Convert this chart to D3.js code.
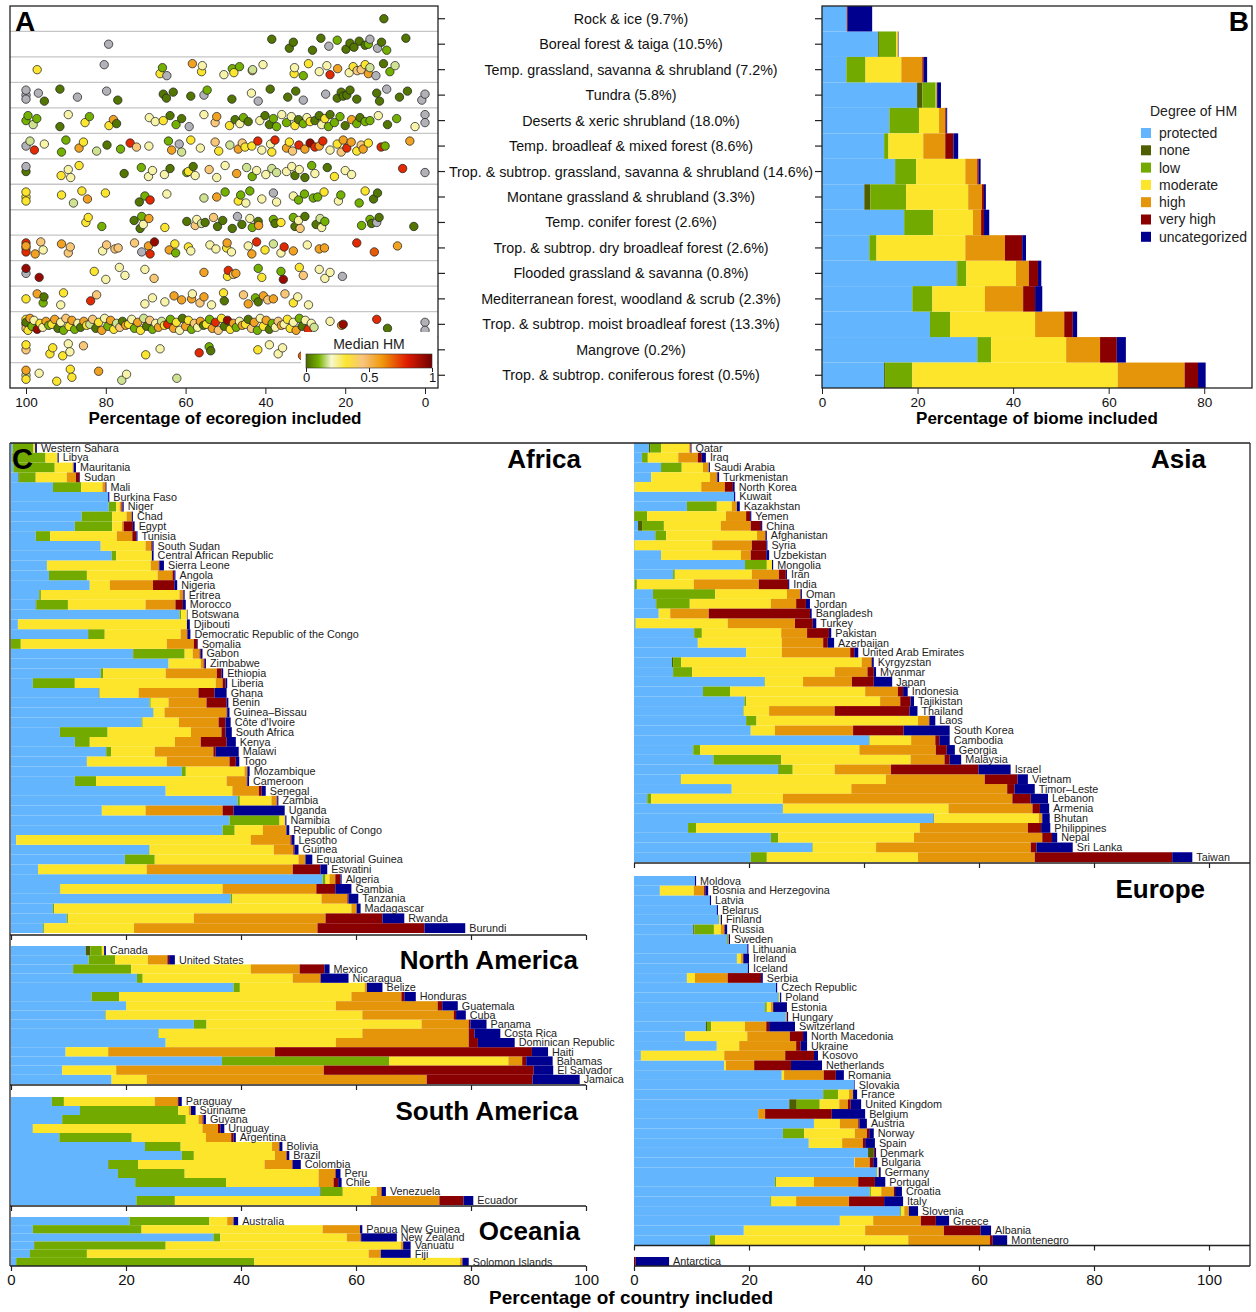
<!DOCTYPE html>
<html>
<head>
<meta charset="utf-8">
<script src="https://cdn.jsdelivr.net/npm/d3@7"></script>
<style>
  body { margin: 0; background: #fff; }
  svg { display: block; font-family: "Liberation Sans", Arial, Helvetica, sans-serif; }
  .axis text { fill: #111; }
  .axis line, .axis path { stroke: #222; }
</style>
</head>
<body>
<svg id="chart" width="1256" height="1312"></svg>
<script>
// ---- categories ----
const hmCats = ["protected", "none", "low", "moderate", "high", "very high", "uncategorized"];
const hmColors = ["#63b5fd", "#4f5f00", "#72aa00", "#fce52a", "#e4950a", "#8a0000", "#00008f"];

// median HM colour ramp (panel A)
const hmStops = [0, 0.1, 0.2, 0.32, 0.45, 0.6, 0.8, 1];
const hmStopColors = ["#4a6800", "#74b000", "#f6f8d0", "#fbe52e", "#f8c47e", "#f09a0c", "#e01c00", "#700000"];

// ---- biomes (panels A and B) ----
const biomes = [
  "Rock & ice (9.7%)", "Boreal forest & taiga (10.5%)", "Temp. grassland, savanna & shrubland (7.2%)",
  "Tundra (5.8%)", "Deserts & xeric shrubland (18.0%)", "Temp. broadleaf & mixed forest (8.6%)",
  "Trop. & subtrop. grassland, savanna & shrubland (14.6%)", "Montane grassland & shrubland (3.3%)",
  "Temp. conifer forest (2.6%)", "Trop. & subtrop. dry broadleaf forest (2.6%)", "Flooded grassland & savanna (0.8%)",
  "Mediterranean forest, woodland & scrub (2.3%)", "Trop. & subtrop. moist broadleaf forest (13.3%)",
  "Mangrove (0.2%)", "Trop. & subtrop. coniferous forest (0.5%)"
];

// cumulative % of biome: protected, none, low, moderate, high, very high, uncategorized
const biomeCum = [
  [5.2, 5.2, 5.2, 5.2, 5.2, 5.4, 10.5],
  [11.7, 11.9, 15.5, 15.8, 15.9, 15.9, 16.0],
  [5.1, 5.1, 9.1, 16.6, 21.0, 21.3, 22.0],
  [19.9, 21.0, 23.8, 24.0, 24.0, 24.1, 24.9],
  [14.1, 14.1, 20.3, 24.5, 25.8, 26.0, 26.2],
  [13.0, 13.0, 13.9, 21.2, 25.8, 27.5, 28.5],
  [15.3, 15.3, 19.7, 30.0, 32.5, 32.8, 33.2],
  [8.85, 10.1, 17.6, 30.6, 33.5, 33.9, 34.3],
  [17.2, 17.2, 23.3, 31.6, 33.3, 33.9, 35.0],
  [9.9, 9.9, 11.4, 30.0, 38.3, 41.9, 42.7],
  [28.2, 28.3, 30.2, 40.6, 43.3, 45.2, 45.9],
  [18.9, 18.9, 23.1, 34.1, 42.1, 44.6, 46.1],
  [22.6, 22.6, 26.8, 44.6, 50.7, 52.5, 53.4],
  [32.5, 32.5, 35.4, 51.1, 58.2, 61.7, 63.6],
  [13.0, 13.2, 18.9, 61.9, 75.9, 78.7, 80.3]
];

// ecoregions: [% of ecoregion included, median HM (null = not available)]
const ecoRock = [[10.3, .02]];
const ecoBoreal = [[79.3, null], [38.4, .02], [34.0, .02], [33.0, .02], [28.2, .02], [26.1, .02], [24.1, null], [22.0, .1], [19.8, .02], [18.8, .02], [17.8, .02], [16.5, .02], [15.0, .02], [14.2, .1], [13.8, null], [11.9, null], [10.9, .02], [9.6, .1], [4.8, .02]];
const ecoTempGrass = [[97.2, .32], [80.4, null], [66.4, .32], [65.8, .1], [64.7, null], [58.3, .57], [56.0, .32], [55.8, .23], [50.4, .23], [48.3, .1], [47.9, .32], [46.5, .1], [43.3, .44], [43.2, .17], [40.6, .23], [32.8, .32], [32.7, .23], [30.5, .1], [29.2, .32], [26.5, .23], [24.6, .23], [23.8, .78], [21.9, .57], [19.0, .23], [18.0, .32], [17.0, .44], [16.0, .44], [15.0, .32], [14.2, .57], [13.8, .17], [12.3, null], [10.4, .02], [8.8, .1], [7.5, .17]];
const ecoTundra = [[100, null], [100, null], [100, null], [96.9, null], [95.4, .02], [91.5, .02], [87.1, null], [79.8, null], [77.0, .02], [65.6, .02], [64.8, .02], [63.1, .02], [58.7, .02], [55.4, null], [54.6, .1], [48.4, .02], [43.5, .23], [41.8, null], [38.8, .02], [34.4, .02], [32.4, .02], [30.5, null], [24.9, null], [22.0, .02], [21.0, .02], [20.5, .02], [19.6, .02], [18.8, .02], [17.1, .02], [12.1, .02], [11.4, .02], [9.6, null], [6.4, .02], [4.4, .02], [0.8, null], [0, null]];
const ecoDeserts = [[100, .1], [99.5, .1], [98.2, .17], [97.3, .1], [91.5, .02], [89.4, .23], [85.2, .32], [84.1, .1], [79.2, .32], [78.1, .57], [77.3, .02], [69.1, .23], [67.6, .23], [65.6, .32], [63.9, .02], [62.4, .1], [61.0, .02], [59.1, null], [55.4, .23], [52.6, .44], [52.2, .57], [49.0, .32], [47.6, .02], [46.4, .23], [45.5, .1], [44.3, .02], [41.4, .23], [40.1, .02], [39.0, .02], [38.0, .1], [37.2, .1], [35.9, .23], [34.7, .1], [33.5, .23], [32.6, .32], [31.7, .02], [30.5, .1], [29.6, .23], [28.8, .32], [27.6, .02], [26.5, .02], [25.9, .23], [25.1, .32], [24.2, .1], [23.8, .02], [22.7, .1], [21.3, .1], [20.0, .02], [18.4, .57], [17.1, .1], [16.3, .02], [15.0, .1], [13.8, .1], [11.7, .23], [9.4, .02], [7.1, .1], [2.5, .23], [0, null], [0, null]];
const ecoTempBroad = [[100, null], [99, .17], [97.9, .78], [95.4, .23], [91.1, .1], [90.0, .1], [86.7, .57], [85.6, .32], [82.3, .17], [79.7, .02], [76.3, .1], [73.9, .78], [72.3, .44], [69.2, .23], [64.3, .1], [63.5, .57], [61.6, null], [61.0, .17], [58.7, .32], [56.3, .23], [52.6, .44], [51.7, .32], [48.9, .17], [46.8, .57], [45.8, .44], [45.1, .32], [43.4, .32], [41.9, .78], [40.9, .23], [38.7, .23], [38.4, .32], [37.6, .78], [34.7, .57], [34.0, .32], [33.2, .44], [31.6, .78], [30.1, .57], [28.8, .93], [27.6, .78], [26.5, .57], [25.6, .78], [23.8, .23], [22.0, .32], [21.0, .44], [20.5, .57], [19.6, .78], [18.5, .57], [17.1, .32], [16.0, .44], [15.5, .57], [14.2, .32], [11.0, .78], [10.0, .1], [3.8, .57]];
const ecoTropGrass = [[100, .02], [100, null], [91.2, .32], [89.4, .23], [88.8, .23], [86.7, .32], [75.4, .02], [71.1, .1], [69.3, .23], [68.3, .23], [65.3, .23], [63.9, .02], [59.7, .1], [59.3, .32], [58.1, .02], [57.6, .23], [54.1, .44], [52.2, .23], [50.1, .23], [47.2, .57], [44.7, .17], [43.3, .1], [42.2, .23], [39.9, .23], [38.4, .17], [37.2, .17], [34.7, .23], [33.4, .23], [32.6, .02], [31.5, .23], [30.1, .02], [28.4, .1], [27.6, .23], [24.5, .02], [22.7, .32], [20.0, .23], [18.4, .23], [5.6, .78], [0, null]];
const ecoMontane = [[100, .32], [100, .32], [100, .32], [91.1, .32], [88.1, .17], [86.0, .32], [84.6, .57], [80.1, .32], [71.6, .02], [70.2, .1], [68.9, .78], [64.7, .23], [55.4, .17], [52.2, .57], [50.1, .1], [46.8, .32], [46.2, .1], [44.9, .23], [43.9, .1], [40.9, .23], [38.0, null], [37.2, .23], [33.0, .23], [31.7, .1], [30.2, .1], [28.0, .1], [26.9, .1], [25.3, .32], [21.7, .23], [21.1, .1], [16.5, .1], [15.0, .32], [12.9, .02], [11.9, .02]];
const ecoTempConifer = [[85.0, .32], [84.4, .32], [81.0, .1], [72.9, .02], [71.4, .02], [71.0, .1], [70.6, .23], [69.2, .57], [65.2, .32], [59.7, .02], [57.6, .44], [57.2, .23], [56.0, .17], [55.1, .02], [53.0, .44], [52.0, .02], [50.7, .02], [48.3, .02], [47.0, null], [45.9, .02], [43.9, .23], [43.3, .1], [41.8, .02], [41.7, .57], [38.0, .1], [37.6, .02], [36.1, .32], [33.0, .1], [32.6, .02], [31.7, .23], [31.3, .44], [30.1, .02], [27.3, .02], [26.3, .17], [25.9, .23], [25.1, .1], [15.9, .1], [13.8, .1], [13.4, .02], [12.1, null], [11.5, .02], [2.8, .02]];
const ecoTropDry = [[100, .57], [100, .78], [100, .78], [100, .57], [97.7, .57], [96.3, .44], [95.7, .23], [91.1, .57], [89.4, .44], [88.9, .44], [80.8, .23], [79.8, .44], [77.7, .44], [76.9, .44], [72.8, .44], [71.0, null], [69.3, .57], [68.9, .78], [67.8, .93], [64.1, .57], [62.7, .32], [62.5, .1], [59.3, .32], [58.7, .23], [53.9, .23], [52.4, .23], [49.7, .32], [49.6, .57], [48.5, .23], [44.3, .23], [43.4, .57], [42.2, .78], [40.1, .32], [38.0, .17], [36.1, .23], [35.3, .78], [33.0, .57], [29.5, .23], [26.5, .57], [25.2, .57], [17.1, .78], [12.7, .7], [6.9, .57]];
const ecoFlooded = [[100, null], [100, .93], [96.7, .93], [82.9, .32], [80.0, .23], [76.6, .23], [75.2, .23], [70.2, .23], [67.9, .44], [55.4, .57], [49.5, .32], [49.3, .78], [48.0, .44], [47.4, .57], [41.8, .1], [40.9, .32], [36.1, .1], [35.5, .93], [31.5, .32], [30.5, .44], [26.5, .23], [25.1, .23], [23.8, .23], [20.7, null]];
const ecoMedit = [[100, .32], [97.2, .57], [95.7, .1], [95.5, .02], [91.3, .23], [90.6, .32], [83.8, .78], [82.3, .44], [70.2, .23], [68.3, .23], [65.2, .23], [62.9, .57], [61.0, .57], [58.5, .57], [58.3, .23], [56.4, .44], [55.4, .57], [53.5, .23], [50.5, .32], [50.3, .02], [45.5, .44], [44.3, .57], [42.5, .1], [41.8, .02], [40.5, .57], [39.4, .44], [38.0, .57], [35.1, .44], [33.0, .32], [31.9, .23], [29.2, .23]];
const ecoTropMoist = [[100, .57], [100, .32], [100, .44], [100, .02], [99.5, .32], [99, .57], [98.5, .1], [98, .23], [97.2, .93], [96.5, .32], [95.8, .23], [95, .57], [94.3, .1], [93.5, .32], [92.8, .57], [92, .02], [91.3, .23], [90.6, .1], [90, .44], [89.2, .32], [88.5, .57], [87.8, .1], [87, .23], [86.3, .02], [85.5, .57], [84.8, .32], [84, .17], [83.3, .44], [82.5, .02], [81.8, .32], [81, .57], [80.3, .23], [79.5, .1], [78.8, .57], [78, .32], [77.3, .17], [76.5, .44], [75.8, .02], [75, .57], [74.3, .32], [73.5, .23], [72.8, .1], [72, .57], [71.3, .32], [70.5, .17], [69.8, .02], [69, .44], [68.3, .1], [67.5, .23], [66.8, .57], [66, .17], [65.3, .32], [64.5, .78], [63.8, .1], [63, .57], [62.3, .32], [61.5, .23], [60.8, .02], [60, .57], [59.3, .32], [58.5, .1], [57.8, .44], [57, .23], [56.3, .57], [55.5, .02], [54.8, .32], [54, .1], [53.3, .57], [52.5, .78], [51.8, .44], [51, .32], [50.3, .02], [49.5, .93], [48.8, .32], [48, .57], [47.3, .1], [46.5, .23], [45.8, .57], [45, .32], [44.3, .02], [43.5, .44], [42.8, .57], [42, .1], [41.3, .23], [40.5, .32], [39.8, .57], [39, .02], [38.3, .1], [37.5, .23], [36.8, .44], [36, .57], [35.3, .23], [34.5, .32], [33.8, .32], [33, .23], [32.3, .57], [31.5, .1], [30.8, .02], [30, .23], [29.3, .78], [28.5, .23], [27.8, .17], [23.8, .23], [20.9, .57], [20.5, .93], [12.1, .78], [9.4, .02], [0, null], [0, null]];
const ecoMangrove = [[100, .44], [100, .32], [94.0, .32], [93.3, .32], [90.8, .32], [89.4, .23], [89.0, .23], [85.6, .44], [70.0, .32], [66.4, .23], [56.6, .78], [54.1, .1], [53.7, .02], [41.9, .32], [39.0, .23], [36.8, .23], [35.7, .23], [30.7, .7]];
const ecoTropConif = [[100, .17], [100, .57], [100, .32], [96.7, .23], [92.3, .32], [88.9, .32], [88.5, .32], [81.8, .57], [76.0, .17], [74.8, .23], [62.2, .17]];

const ecoPoints = [ecoRock, ecoBoreal, ecoTempGrass, ecoTundra, ecoDeserts, ecoTempBroad, ecoTropGrass,
  ecoMontane, ecoTempConifer, ecoTropDry, ecoFlooded, ecoMedit, ecoTropMoist, ecoMangrove, ecoTropConif];

// ---- countries (panel C): cumulative % of country, same 7 categories ----
const africa = [
  ["Western Sahara", 0.3, 0.3, 3.9, 4.2, 4.2, 4.2, 4.5],
  ["Libya", 0.2, 0.2, 6.0, 8.1, 8.1, 8.1, 8.3],
  ["Mauritania", 0.4, 0.4, 7.6, 10.7, 10.9, 10.9, 11.3],
  ["Sudan", 1.3, 1.4, 4.3, 9.7, 11.3, 11.9, 12.0],
  ["Mali", 7.3, 7.3, 12.2, 15.9, 16.4, 16.5, 16.6],
  ["Burkina Faso", 16.9, 16.9, 16.9, 16.9, 16.9, 16.9, 17.1],
  ["Niger", 17.0, 17.0, 18.3, 18.9, 19.2, 19.4, 19.6],
  ["Chad", 12.3, 12.3, 17.6, 20.1, 21.0, 21.0, 21.2],
  ["Egypt", 11.1, 11.1, 17.6, 19.3, 19.6, 21.2, 21.5],
  ["Tunisia", 4.3, 4.3, 6.8, 18.4, 21.1, 21.8, 22.0],
  ["South Sudan", 15.6, 15.6, 15.6, 23.4, 24.4, 24.6, 24.8],
  ["Central African Republic", 17.5, 17.5, 18.3, 24.5, 24.5, 24.5, 24.8],
  ["Sierra Leone", 6.25, 6.25, 6.25, 24.3, 25.7, 25.8, 26.6],
  ["Angola", 6.6, 6.6, 13.2, 25.5, 28.1, 28.4, 28.6],
  ["Nigeria", 13.7, 13.7, 13.7, 17.2, 24.7, 28.4, 28.9],
  ["Eritrea", 4.9, 4.9, 5.2, 29.3, 29.9, 30.0, 30.2],
  ["Morocco", 4.3, 4.4, 9.9, 23.4, 28.6, 29.9, 30.4],
  ["Botswana", 29.3, 29.3, 29.6, 30.6, 30.6, 30.6, 30.7],
  ["Djibouti", 1.2, 1.2, 1.2, 30.6, 30.6, 30.6, 31.1],
  ["Democratic Republic of the Congo", 13.4, 13.5, 16.3, 29.5, 30.6, 30.7, 31.2],
  ["Somalia", 0, 0, 1.7, 27.1, 31.8, 32.4, 32.5],
  ["Gabon", 21.2, 21.3, 30.2, 31.6, 32.8, 33.0, 33.3],
  ["Zimbabwe", 27.4, 27.4, 27.4, 33.0, 33.5, 33.7, 33.9],
  ["Ethiopia", 15.6, 15.6, 16.0, 26.9, 35.8, 36.6, 36.9],
  ["Liberia", 3.8, 3.8, 11.1, 35.6, 36.8, 37.3, 37.6],
  ["Ghana", 15.3, 15.4, 15.4, 22.2, 32.6, 35.4, 37.5],
  ["Benin", 24.1, 24.1, 24.3, 27.4, 34.0, 37.5, 37.8],
  ["Guinea\u2013Bissau", 24.7, 24.7, 24.8, 26.7, 37.5, 37.6, 38.0],
  ["C\u00f4te d'Ivoire", 22.7, 22.7, 22.9, 29.2, 36.1, 37.3, 38.2],
  ["South Africa", 8.5, 8.5, 16.8, 31.3, 36.6, 37.3, 38.4],
  ["Kenya", 11.1, 11.1, 13.7, 28.5, 33.0, 37.5, 39.1],
  ["Malawi", 16.5, 16.6, 17.4, 25.0, 35.2, 35.6, 39.6],
  ["Togo", 13.2, 13.2, 13.2, 27.1, 38.0, 39.1, 39.7],
  ["Mozambique", 29.7, 29.7, 30.4, 40.6, 41.1, 41.1, 41.5],
  ["Cameroon", 11.1, 11.1, 14.8, 37.5, 41.0, 41.1, 41.4],
  ["Senegal", 26.9, 26.9, 26.9, 38.5, 43.1, 43.6, 44.3],
  ["Zambia", 39.4, 39.4, 39.8, 45.3, 46.2, 46.3, 46.5],
  ["Uganda", 15.8, 15.8, 15.8, 23.4, 36.8, 38.7, 47.6],
  ["Namibia", 38.0, 38.0, 46.7, 47.6, 47.7, 47.7, 47.9],
  ["Republic of Congo", 36.8, 36.8, 38.9, 43.8, 47.9, 47.9, 48.4],
  ["Lesotho", 0.9, 0.9, 0.9, 41.7, 48.6, 48.8, 49.3],
  ["Guinea", 24.0, 24.0, 24.1, 45.7, 49.1, 49.3, 50.0],
  ["Equatorial Guinea", 19.8, 19.8, 25.0, 50.0, 51.2, 51.2, 52.4],
  ["Eswatini", 4.7, 4.7, 4.7, 23.6, 49.0, 53.8, 55.0],
  ["Algeria", 54.2, 54.2, 54.7, 55.4, 56.4, 57.3, 57.5],
  ["Gambia", 8.5, 8.5, 8.6, 36.8, 53.1, 56.4, 59.2],
  ["Tanzania", 38.2, 38.2, 38.5, 54.0, 58.5, 58.7, 60.4],
  ["Madagascar", 7.3, 7.3, 7.5, 59.2, 60.1, 60.1, 60.8],
  ["Rwanda", 9.7, 9.7, 9.9, 31.8, 54.7, 64.6, 68.4],
  ["Burundi", 5.6, 5.6, 5.8, 21.4, 53.3, 71.9, 79.0]
];
const northAmerica = [
  ["Canada", 13.0, 13.8, 15.8, 16.2, 16.2, 16.2, 16.5],
  ["United States", 13.5, 13.5, 18.1, 23.8, 27.2, 27.5, 28.5],
  ["Mexico", 10.8, 10.8, 20.9, 41.7, 50.2, 54.5, 55.4],
  ["Nicaragua", 21.9, 21.9, 22.9, 49.0, 53.8, 53.9, 58.7],
  ["Belize", 38.7, 38.7, 39.8, 61.5, 61.9, 61.9, 64.6],
  ["Honduras", 14.0, 14.0, 18.8, 59.2, 67.9, 68.4, 70.4],
  ["Guatemala", 20.0, 20.0, 20.0, 56.5, 74.2, 75.0, 77.7],
  ["Cuba", 16.4, 16.4, 16.5, 61.1, 77.0, 77.4, 79.1],
  ["Panama", 31.8, 31.8, 34.0, 71.4, 79.6, 79.9, 82.7],
  ["Costa Rica", 25.6, 25.6, 25.7, 61.1, 79.6, 80.6, 85.1],
  ["Dominican Republic", 26.9, 26.9, 26.9, 56.5, 79.6, 81.2, 87.6],
  ["Haiti", 9.5, 9.5, 9.5, 16.9, 45.9, 90.6, 93.4],
  ["Bahamas", 36.7, 36.7, 65.8, 86.5, 88.9, 89.6, 94.2],
  ["El Salvador", 8.9, 8.9, 8.9, 18.3, 54.4, 90.9, 94.3],
  ["Jamaica", 17.5, 17.5, 17.5, 23.6, 72.3, 90.7, 98.9]
];
const southAmerica = [
  ["Paraguay", 7.1, 7.1, 9.2, 25.0, 29.0, 29.2, 29.7],
  ["Suriname", 12.0, 12.0, 29.1, 30.9, 31.3, 31.3, 32.1],
  ["Guyana", 8.9, 8.9, 30.4, 32.6, 33.3, 33.5, 33.9],
  ["Uruguay", 3.8, 3.8, 3.8, 33.3, 36.0, 36.4, 37.1],
  ["Argentina", 8.4, 8.4, 21.0, 33.9, 38.3, 38.7, 39.1],
  ["Bolivia", 23.3, 23.3, 29.5, 45.4, 46.6, 46.7, 47.2],
  ["Brazil", 29.7, 29.7, 31.8, 45.9, 47.9, 48.0, 48.4],
  ["Colombia", 16.9, 17.0, 22.1, 44.1, 48.9, 49.0, 50.4],
  ["Peru", 18.6, 18.6, 30.2, 53.5, 56.4, 56.5, 57.3],
  ["Chile", 21.6, 21.6, 37.4, 53.5, 56.1, 56.9, 57.5],
  ["Venezuela", 53.8, 53.9, 57.7, 63.6, 64.4, 64.5, 65.2],
  ["Ecuador", 21.8, 21.8, 28.5, 62.6, 74.5, 78.7, 80.4]
];
const oceania = [
  ["Australia", 20.6, 20.6, 34.5, 37.6, 38.7, 38.7, 39.5],
  ["Papua New Guinea", 3.8, 3.8, 22.7, 54.2, 60.7, 60.7, 61.1],
  ["New Zealand", 35.2, 35.2, 36.4, 58.4, 60.8, 60.9, 67.1],
  ["Vanuatu", 4.0, 4.1, 26.9, 67.8, 68.2, 68.2, 69.5],
  ["Fiji", 3.3, 3.3, 13.2, 62.2, 64.3, 64.3, 69.5],
  ["Solomon Islands", 0.9, 0.9, 42.3, 78.1, 78.5, 78.5, 79.6]
];
const asia = [
  ["Qatar", 2.6, 2.8, 4.7, 9.6, 9.8, 9.9, 10.0],
  ["Iraq", 1.4, 1.4, 2.4, 7.7, 11.1, 11.8, 12.5],
  ["Saudi Arabia", 4.7, 4.7, 8.3, 12.0, 13.0, 13.0, 13.2],
  ["Turkmenistan", 3.0, 3.0, 3.0, 13.2, 14.4, 14.5, 14.8],
  ["North Korea", 0.1, 0.1, 0.1, 11.7, 15.8, 17.2, 17.5],
  ["Kuwait", 17.4, 17.4, 17.4, 17.4, 17.4, 17.4, 17.6],
  ["Kazakhstan", 9.2, 9.2, 14.4, 17.0, 17.9, 17.9, 18.4],
  ["Yemen", 0, 0.1, 2.3, 16.0, 19.5, 20.2, 20.4],
  ["China", 0.7, 1.4, 5.2, 15.1, 20.3, 22.1, 22.3],
  ["Afghanistan", 3.7, 3.7, 5.6, 21.4, 22.8, 22.9, 23.1],
  ["Syria", 0, 0, 0.1, 13.6, 20.5, 23.0, 23.2],
  ["Uzbekistan", 4.7, 4.7, 4.7, 18.6, 20.3, 23.0, 23.5],
  ["Mongolia", 19.3, 19.3, 23.1, 24.0, 24.0, 24.0, 24.2],
  ["Iran", 6.8, 6.8, 7.1, 20.5, 25.2, 26.4, 26.6],
  ["India", 0.1, 0.1, 0.5, 10.4, 21.7, 26.8, 27.0],
  ["Oman", 3.3, 3.3, 14.1, 26.6, 28.9, 29.0, 29.2],
  ["Jordan", 3.8, 3.9, 9.7, 23.8, 28.2, 29.9, 30.6],
  ["Bangladesh", 4.3, 4.3, 4.3, 6.3, 13.0, 30.6, 30.9],
  ["Turkey", 0.2, 0.2, 0.3, 16.3, 28.0, 31.1, 31.7],
  ["Pakistan", 10.4, 10.5, 11.8, 25.6, 30.1, 33.9, 34.3],
  ["Azerbaijan", 11.1, 11.1, 11.1, 25.7, 32.9, 33.7, 34.8],
  ["United Arab Emirates", 19.5, 19.5, 19.5, 25.7, 37.6, 38.3, 39.0],
  ["Kyrgyzstan", 6.6, 6.8, 8.2, 39.6, 41.3, 41.4, 41.7],
  ["Myanmar", 6.8, 6.8, 10.1, 34.9, 40.6, 41.7, 42.1],
  ["Japan", 22.7, 22.7, 22.8, 29.4, 37.9, 41.7, 44.9],
  ["Indonesia", 12.0, 12.0, 16.7, 40.2, 45.9, 46.8, 47.6],
  ["Tajikistan", 19.2, 19.2, 19.5, 42.8, 46.3, 48.1, 48.7],
  ["Thailand", 19.0, 19.0, 19.1, 23.5, 34.9, 47.9, 49.3],
  ["Laos", 19.5, 19.5, 21.3, 49.4, 51.3, 51.4, 52.4],
  ["South Korea", 20.3, 20.3, 20.3, 24.5, 38.1, 46.9, 54.9],
  ["Cambodia", 40.9, 40.9, 41.0, 48.2, 52.4, 53.1, 54.9],
  ["Georgia", 10.3, 10.3, 11.5, 39.2, 52.5, 54.4, 55.8],
  ["Malaysia", 13.8, 13.8, 25.6, 48.1, 54.0, 54.9, 56.9],
  ["Israel", 25.1, 25.2, 27.6, 34.9, 44.7, 59.9, 65.5],
  ["Vietnam", 8.1, 8.1, 8.2, 43.8, 61.0, 66.7, 68.5],
  ["Timor\u2013Leste", 17.0, 17.0, 17.0, 37.8, 64.9, 66.2, 69.7],
  ["Lebanon", 2.3, 2.3, 3.0, 25.9, 65.8, 69.0, 72.0],
  ["Armenia", 25.9, 25.9, 25.9, 54.7, 69.3, 70.6, 72.2],
  ["Bhutan", 52.1, 52.2, 52.2, 70.4, 71.0, 71.0, 72.3],
  ["Philippines", 9.4, 9.4, 10.8, 49.7, 68.5, 70.8, 72.4],
  ["Nepal", 23.8, 23.8, 25.1, 48.7, 71.0, 72.7, 73.6],
  ["Sri Lanka", 31.0, 31.0, 31.1, 42.1, 69.0, 70.0, 76.3],
  ["Taiwan", 20.3, 20.3, 23.1, 49.4, 69.7, 93.6, 97.1]
];
const europe = [
  ["Moldova", 10.6, 10.6, 10.6, 10.6, 10.6, 10.6, 10.8],
  ["Bosnia and Herzegovina", 4.5, 4.5, 4.5, 10.4, 12.2, 12.4, 12.9],
  ["Latvia", 13.2, 13.2, 13.2, 13.2, 13.2, 13.2, 13.4],
  ["Belarus", 14.4, 14.4, 14.4, 14.4, 14.4, 14.4, 14.6],
  ["Finland", 14.8, 14.8, 14.8, 15.1, 15.1, 15.1, 15.3],
  ["Russia", 10.3, 10.5, 13.9, 15.1, 15.7, 15.8, 16.2],
  ["Sweden", 16.2, 16.2, 16.35, 16.35, 16.5, 16.5, 16.7],
  ["Lithuania", 19.7, 19.7, 19.7, 19.7, 19.7, 19.7, 19.9],
  ["Ireland", 17.9, 17.9, 17.9, 18.6, 19.0, 19.0, 20.0],
  ["Iceland", 19.8, 19.8, 19.8, 19.8, 19.8, 19.8, 20.0],
  ["Serbia", 9.2, 9.2, 9.2, 10.6, 16.3, 22.1, 22.4],
  ["Czech Republic", 24.7, 24.7, 24.7, 24.7, 24.7, 24.7, 24.9],
  ["Poland", 25.2, 25.2, 25.2, 25.4, 25.4, 25.4, 25.6],
  ["Estonia", 22.8, 22.8, 23.1, 23.8, 24.2, 24.2, 26.6],
  ["Hungary", 26.4, 26.4, 26.4, 26.4, 26.6, 26.6, 26.8],
  ["Switzerland", 12.5, 12.7, 13.4, 19.3, 23.0, 23.5, 28.0],
  ["North Macedonia", 8.9, 8.9, 8.9, 19.7, 27.1, 29.4, 30.1],
  ["Ukraine", 14.4, 14.4, 14.4, 18.3, 28.2, 29.0, 30.1],
  ["Kosovo", 1.2, 1.2, 1.2, 15.7, 26.3, 31.3, 32.0],
  ["Netherlands", 15.7, 15.7, 15.7, 16.0, 20.9, 27.3, 32.7],
  ["Romania", 25.7, 25.7, 25.7, 26.1, 33.0, 35.1, 36.5],
  ["Slovakia", 38.3, 38.3, 38.3, 38.3, 38.3, 38.3, 38.4],
  ["France", 32.9, 32.9, 35.5, 37.4, 38.1, 38.1, 38.8],
  ["United Kingdom", 27.0, 28.3, 32.3, 35.7, 37.2, 37.7, 39.5],
  ["Belgium", 21.6, 21.6, 21.6, 21.6, 22.8, 34.4, 40.2],
  ["Austria", 31.3, 31.3, 31.3, 35.8, 39.0, 39.2, 40.5],
  ["Norway", 25.9, 25.9, 29.6, 38.4, 40.5, 40.9, 41.7],
  ["Spain", 30.4, 30.4, 30.4, 36.2, 39.8, 40.2, 41.9],
  ["Denmark", 40.7, 41.7, 41.7, 41.7, 41.7, 41.9, 42.1],
  ["Bulgaria", 38.3, 38.3, 38.3, 38.4, 41.0, 41.6, 42.3],
  ["Germany", 42.3, 42.3, 42.3, 42.5, 42.6, 42.6, 42.9],
  ["Portugal", 24.5, 24.5, 24.7, 31.3, 39.0, 41.9, 43.7],
  ["Croatia", 41.0, 41.0, 41.2, 43.0, 45.2, 45.4, 46.6],
  ["Italy", 23.7, 23.7, 23.9, 28.2, 37.4, 43.5, 46.8],
  ["Slovenia", 46.3, 46.3, 46.5, 47.0, 47.8, 47.8, 49.4],
  ["Greece", 35.8, 35.8, 35.8, 41.6, 49.9, 52.5, 54.8],
  ["Albania", 19.1, 19.1, 19.1, 40.2, 53.9, 60.3, 62.1],
  ["Montenegro", 13.2, 13.2, 14.1, 47.7, 61.9, 62.4, 64.9]
];
const antarctica = [
  ["Antarctica", 0, 0, 0, 0, 0, 0.3, 6.1]
];

const ticksC = [0, 20, 40, 60, 80, 100];

// ---------------------------------------------------------------
const svg = d3.select("#chart");
svg.append("rect").attr("width", 1256).attr("height", 1312).attr("fill", "#fff");

const stack = d3.stack().keys(hmCats);
const catColor = d3.scaleOrdinal().domain(hmCats).range(hmColors);
const hmColor = d3.scaleLinear().domain(hmStops).range(hmStopColors).clamp(true);

// cumulative boundaries -> one value per category
function toRecord(name, cum) {
  const r = { name: name };
  let prev = 0;
  hmCats.forEach((k, i) => {
    r[k] = Math.max(0, cum[i] - prev);
    prev = Math.max(prev, cum[i]);
  });
  r.total = prev;
  return r;
}

function drawStack(g, recs, x, y) {
  g.selectAll("g.series")
    .data(stack(recs))
    .join("g")
    .attr("class", "series")
    .attr("fill", d => catColor(d.key))
    .selectAll("rect")
    .data(d => d)
    .join("rect")
    .attr("x", d => x(d[0]))
    .attr("y", d => y(d.data.name))
    .attr("width", d => Math.max(0, x(d[1]) - x(d[0])))
    .attr("height", y.bandwidth());
}

// ================= Panel A =================
const xA = d3.scaleLinear().domain([100, 0]).range([26, 425]);
const yRows = d3.scaleBand().domain(biomes).range([6, 388]);

const gA = svg.append("g");
// row separators
gA.selectAll("line.sep")
  .data(biomes.slice(1))
  .join("line")
  .attr("x1", 10).attr("x2", 438)
  .attr("y1", d => yRows(d)).attr("y2", d => yRows(d))
  .attr("stroke", "#c6c6c6").attr("stroke-width", 1.3);

// ecoregion points, spread a little inside each row
const spread = [0, -5, 4, -2, 6, -6, 2, -4, 5, -1, 3, -3, 1];
const ptsFlat = [];
ecoPoints.forEach((pts, bi) => pts.forEach((p, i) => ptsFlat.push({ biome: biomes[bi], v: p[0], hm: p[1], k: i })));

gA.selectAll("circle")
  .data(ptsFlat)
  .join("circle")
  .attr("cx", d => xA(d.v))
  .attr("cy", d => yRows(d.biome) + yRows.bandwidth() / 2 + spread[d.k % spread.length])
  .attr("r", 4.2)
  .attr("fill", d => d.hm == null ? "#b1b1b8" : hmColor(d.hm))
  .attr("stroke", "#222")
  .attr("stroke-width", 0.75);

// median HM legend
const defs = svg.append("defs");
const grad = defs.append("linearGradient").attr("id", "hmGrad");
grad.selectAll("stop").data(hmStops).join("stop")
  .attr("offset", d => d * 100 + "%")
  .attr("stop-color", (d, i) => hmStopColors[i]);

const legA = svg.append("g");
legA.append("rect").attr("x", 301).attr("y", 332).attr("width", 136).attr("height", 55).attr("fill", "#fff");
const xLeg = d3.scaleLinear().domain([0, 1]).range([306, 432]);
legA.append("rect").attr("x", 306).attr("y", 354).attr("width", 126).attr("height", 14)
  .attr("fill", "url(#hmGrad)").attr("stroke", "#333").attr("stroke-width", 0.6);
legA.append("text").attr("x", 369).attr("y", 349).attr("text-anchor", "middle")
  .attr("font-size", 14).attr("fill", "#222").text("Median HM");
legA.append("g").attr("class", "axis")
  .attr("transform", "translate(0,368)")
  .call(d3.axisBottom(xLeg).tickValues([0, 0.5, 1]).tickFormat(d3.format("")).tickSize(4).tickPadding(1))
  .call(g => g.select(".domain").remove())
  .call(g => g.selectAll("text").attr("font-size", 13).attr("font-family", null));

// frame, ticks and axis
svg.append("rect").attr("x", 10).attr("y", 6).attr("width", 428).attr("height", 382)
  .attr("fill", "none").attr("stroke", "#222").attr("stroke-width", 1.3);
svg.append("g").selectAll("line").data(biomes).join("line")
  .attr("x1", 438).attr("x2", 445)
  .attr("y1", d => yRows(d) + yRows.bandwidth() / 2).attr("y2", d => yRows(d) + yRows.bandwidth() / 2)
  .attr("stroke", "#222").attr("stroke-width", 1.2);

svg.append("g").attr("class", "axis")
  .attr("transform", "translate(0,388)")
  .call(d3.axisBottom(xA).tickValues([100, 80, 60, 40, 20, 0]).tickSize(6).tickPadding(3))
  .call(g => g.select(".domain").remove())
  .call(g => g.selectAll("text").attr("font-size", 13.5).attr("font-family", null));

svg.append("text").attr("x", 225).attr("y", 424).attr("text-anchor", "middle")
  .attr("font-size", 17).attr("font-weight", "bold").text("Percentage of ecoregion included");
svg.append("text").attr("x", 15).attr("y", 31).attr("font-size", 28).attr("font-weight", "bold").text("A");

// biome names between A and B
svg.append("g").selectAll("text").data(biomes).join("text")
  .attr("x", 631)
  .attr("y", d => yRows(d) + yRows.bandwidth() / 2)
  .attr("dy", "0.35em")
  .attr("text-anchor", "middle")
  .attr("font-size", 14.3)
  .attr("fill", "#111")
  .text(d => d);

// ================= Panel B =================
const xB = d3.scaleLinear().domain([0, 90]).range([822, 1252]);
const recB = biomes.map((b, i) => toRecord(b, biomeCum[i]));
drawStack(svg.append("g"), recB, xB, yRows);

svg.append("rect").attr("x", 822).attr("y", 6).attr("width", 430).attr("height", 382)
  .attr("fill", "none").attr("stroke", "#222").attr("stroke-width", 1.3);
svg.append("g").selectAll("line").data(biomes).join("line")
  .attr("x1", 815).attr("x2", 822)
  .attr("y1", d => yRows(d) + yRows.bandwidth() / 2).attr("y2", d => yRows(d) + yRows.bandwidth() / 2)
  .attr("stroke", "#222").attr("stroke-width", 1.2);
svg.append("g").attr("class", "axis")
  .attr("transform", "translate(0,388)")
  .call(d3.axisBottom(xB).tickValues([0, 20, 40, 60, 80]).tickSize(6).tickPadding(3))
  .call(g => g.select(".domain").remove())
  .call(g => g.selectAll("text").attr("font-size", 13.5).attr("font-family", null));
svg.append("text").attr("x", 1037).attr("y", 424).attr("text-anchor", "middle")
  .attr("font-size", 17).attr("font-weight", "bold").text("Percentage of biome included");
svg.append("text").attr("x", 1249).attr("y", 31).attr("text-anchor", "end")
  .attr("font-size", 28).attr("font-weight", "bold").text("B");

// legend B
const legB = svg.append("g");
legB.append("text").attr("x", 1150).attr("y", 116).attr("font-size", 14).attr("fill", "#222").text("Degree of HM");
const legItems = legB.selectAll("g.item").data(hmCats).join("g")
  .attr("transform", (d, i) => `translate(1141,${133 + i * 17.3})`);
legItems.append("rect").attr("x", 0).attr("y", -5).attr("width", 10).attr("height", 10).attr("fill", d => catColor(d));
legItems.append("text").attr("x", 18).attr("dy", "0.35em").attr("font-size", 14).attr("fill", "#222").text(d => d);

// ================= Panel C =================
const xLeft = d3.scaleLinear().domain([0, 100]).range([11, 586]);
const xRight = d3.scaleLinear().domain([0, 100]).range([634, 1209]);

const facets = [
  { title: "Africa", rows: africa, x: xLeft, y0: 443, y1: 933, axisY: 935, lineX: [10, 586], titleX: 581, titleY: 468 },
  { title: "North America", rows: northAmerica, x: xLeft, y0: 946, y1: 1084, axisY: 1085, lineX: [10, 586], titleX: 578, titleY: 969 },
  { title: "South America", rows: southAmerica, x: xLeft, y0: 1097, y1: 1205, axisY: 1206, lineX: [10, 586], titleX: 578, titleY: 1120 },
  { title: "Oceania", rows: oceania, x: xLeft, y0: 1217, y1: 1266, axisY: 1266, lineX: [10, 586], titleX: 580, titleY: 1240, last: true },
  { title: "Asia", rows: asia, x: xRight, y0: 443, y1: 862, axisY: 863, lineX: [634, 1250], titleX: 1206, titleY: 468 },
  { title: "Europe", rows: europe, x: xRight, y0: 876, y1: 1245, axisY: 1245.5, lineX: [634, 1250], titleX: 1205, titleY: 898 },
  { title: "", rows: antarctica, x: xRight, y0: 1257, y1: 1266, axisY: 1266, lineX: [634, 1250], last: true }
];

facets.forEach(f => {
  const recs = f.rows.map(r => toRecord(r[0], r.slice(1)));
  const y = d3.scaleBand().domain(recs.map(r => r.name)).range([f.y0, f.y1]);
  const g = svg.append("g");
  drawStack(g, recs, f.x, y);

  // country labels at the end of each bar
  g.append("g").selectAll("text").data(recs).join("text")
    .attr("x", d => f.x(d.total) + 4)
    .attr("y", d => y(d.name) + y.bandwidth() / 2)
    .attr("dy", "0.35em")
    .attr("font-size", 10.8)
    .attr("fill", "#222")
    .text(d => d.name);

  if (f.title) {
    svg.append("text").attr("x", f.titleX).attr("y", f.titleY).attr("text-anchor", "end")
      .attr("font-size", 26).attr("font-weight", "bold").attr("fill", "#000").text(f.title);
  }

  // facet axis line with ticks pointing down
  const ax = svg.append("g").attr("class", "axis").attr("transform", `translate(0,${f.axisY})`)
    .call(d3.axisBottom(f.x).tickValues(ticksC).tickSize(5).tickPadding(3)
      .tickFormat(f.last ? d3.format("") : () => ""));
  ax.select(".domain").remove();
  ax.selectAll("text").attr("font-size", 15).attr("font-family", null);
  ax.selectAll("line").attr("stroke-width", 1.2);
  ax.append("line").attr("x1", f.lineX[0]).attr("x2", f.lineX[1]).attr("stroke", "#222").attr("stroke-width", 1.3);
});

// outer frame of panel C
const frameC = svg.append("g").attr("stroke", "#222").attr("stroke-width", 1.3);
frameC.append("line").attr("x1", 10).attr("x2", 1250).attr("y1", 443).attr("y2", 443);
frameC.append("line").attr("x1", 10).attr("x2", 10).attr("y1", 443).attr("y2", 1266);
frameC.append("line").attr("x1", 1250).attr("x2", 1250).attr("y1", 443).attr("y2", 1266);

svg.append("text").attr("x", 12).attr("y", 469).attr("font-size", 29).attr("font-weight", "bold").text("C");
svg.append("text").attr("x", 631).attr("y", 1304).attr("text-anchor", "middle")
  .attr("font-size", 19).attr("font-weight", "bold").text("Percentage of country included");
</script>
</body>
</html>
